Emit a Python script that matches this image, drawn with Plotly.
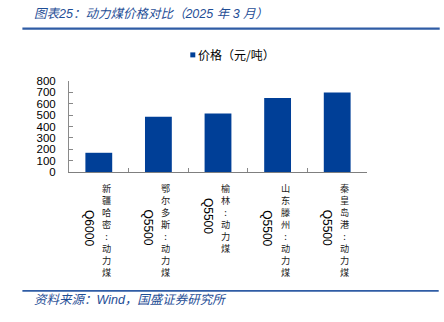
import plotly.graph_objects as go

# ---- data ----
regions = ["新疆哈密:动力煤", "鄂尔多斯:动力煤", "榆林:动力煤", "山东滕州:动力煤", "秦皇岛港:动力煤"]
grades = ["Q6000", "Q5500", "Q5500", "Q5500", "Q5500"]
prices = [169, 485, 514, 651, 698]
series_name = "价格（元/吨）"
y_ticks = [0, 100, 200, 300, 400, 500, 600, 700, 800]
title_text = "图表25：动力煤价格对比（2025 年 3 月）"
source_text = "资料来源：Wind，国盛证券研究所"

W, H = 444, 322
L, R, T, B = 69.3, 367.3, 80.7, 172.0

def px(x):
    return (x - L) / (R - L)

def py(y):
    return (B - y) / (B - T)

BAR = "#003F97"
BLUE_TXT = "#1F4E96"
BLUE_LINE = "#2F5CA5"
LATIN = "Liberation Sans, Arial, Noto Sans CJK SC"
CJK = "Noto Sans CJK SC"

cats = list(range(len(prices)))

fig = go.Figure()
fig.add_trace(go.Bar(x=cats, y=prices, marker_color=BAR, marker_line_width=0,
                     name=series_name, showlegend=False))

fig.update_layout(
    width=W, height=H,
    margin=dict(l=L, r=W - R, t=T, b=H - B, pad=0),
    paper_bgcolor="white", plot_bgcolor="white",
    bargap=0.55,
    showlegend=False,
    xaxis=dict(type="linear", range=[-0.5, len(prices) - 0.5], showticklabels=False,
               tickmode="array", tickvals=[i + 0.5 for i in range(-1, len(prices))],
               ticks="inside", ticklen=4, tickcolor="#888888",
               showline=True, linecolor="#7F7F7F", linewidth=1, showgrid=False,
               zeroline=False, fixedrange=True),
    yaxis=dict(range=[0, 800], tickmode="array", tickvals=y_ticks,
               ticktext=[str(v) for v in y_ticks],
               ticks="inside", ticklen=4, tickcolor="#888888",
               showline=True, linecolor="#8A8A8A", linewidth=1, showgrid=False,
               zeroline=False, ticklabelstandoff=10,
               tickfont=dict(family=LATIN, size=11.5, color="black")),
)

ann = []
# title
ann.append(dict(text=title_text, xref="paper", yref="paper", x=px(32.0), y=py(13.5),
                xanchor="left", yanchor="middle", showarrow=False,
                font=dict(family=LATIN, size=12.5, color=BLUE_TXT, style="italic")))
# source
ann.append(dict(text=source_text, xref="paper", yref="paper", x=px(32.5), y=py(300.5),
                xanchor="left", yanchor="middle", showarrow=False,
                font=dict(family=LATIN, size=12.5, color=BLUE_TXT, style="italic")))
# legend (text part)
ann.append(dict(text=series_name, xref="paper", yref="paper", x=px(196.5), y=py(54.5),
                xanchor="left", yanchor="middle", showarrow=False,
                font=dict(family=CJK, size=12, color="black")))

# category labels: vertical CJK column + rotated grade column
CFS = 9.2
LH = CFS * 1.3
for i, (reg, gr) in enumerate(zip(regions, grades)):
    n = len(reg)
    ann.append(dict(text="<br>".join(list(reg)), x=i, xref="x", y=0, yref="paper",
                    xanchor="center", yanchor="top", xshift=7.5, yshift=-7,
                    showarrow=False, align="center",
                    font=dict(family=CJK, size=CFS, color="#222222")))
    ann.append(dict(text=gr, x=i, xref="x", y=0, yref="paper", textangle=90,
                    xanchor="center", yanchor="middle", xshift=-10,
                    yshift=-(8 + n * LH / 2), showarrow=False,
                    font=dict(family=LATIN, size=12, color="black")))
fig.update_layout(annotations=ann)

shapes = [
    # title underline
    dict(type="line", xref="paper", yref="paper", x0=px(22.7), x1=px(440), y0=py(28.2), y1=py(28.2),
         line=dict(color=BLUE_LINE, width=2.2)),
    # footer line
    dict(type="line", xref="paper", yref="paper", x0=px(22.7), x1=px(439), y0=py(291.3), y1=py(291.3),
         line=dict(color=BLUE_LINE, width=1.6)),
    # legend swatch
    dict(type="rect", xref="paper", yref="paper", x0=px(190.6), x1=px(195.6), y0=py(57), y1=py(52),
         line=dict(width=0), fillcolor=BAR),
]
fig.update_layout(shapes=shapes)

fig.write_html("out.html")
